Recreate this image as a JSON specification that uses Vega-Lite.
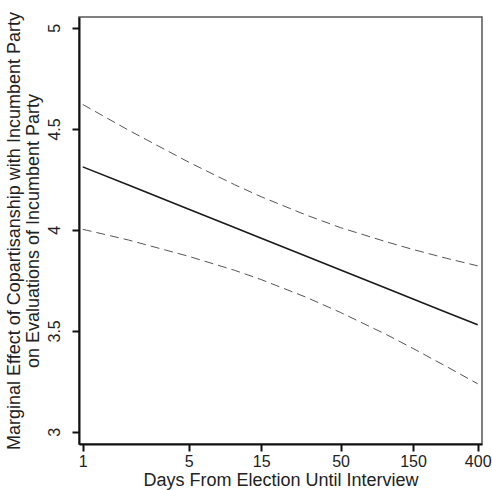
{
  "$schema": "https://vega.github.io/schema/vega-lite/v6.json",
  "width": 403,
  "height": 427,
  "autosize": {"type": "none"},
  "padding": {"left": 79, "top": 17, "right": 10, "bottom": 46},
  "background": "white",
  "config": {
    "font": "Liberation Sans",
    "view": {"stroke": "#555", "strokeWidth": 1.5},
    "axis": {
      "grid": false,
      "domainColor": "#111",
      "domainWidth": 2,
      "tickColor": "#111",
      "tickWidth": 2,
      "tickSize": 7,
      "labelFont": "Liberation Sans",
      "labelFontSize": 16,
      "labelColor": "#222",
      "titleFont": "Liberation Sans",
      "titleFontSize": 18,
      "titleFontWeight": "normal",
      "titleColor": "#222"
    }
  },
  "data": {
    "values": [
      {"days": 1, "est": 4.312, "lo": 4.003, "hi": 4.621},
      {"days": 2, "est": 4.222, "lo": 3.950, "hi": 4.494},
      {"days": 5, "est": 4.102, "lo": 3.869, "hi": 4.335},
      {"days": 10, "est": 4.012, "lo": 3.800, "hi": 4.224},
      {"days": 15, "est": 3.959, "lo": 3.754, "hi": 4.164},
      {"days": 30, "est": 3.868, "lo": 3.665, "hi": 4.072},
      {"days": 50, "est": 3.801, "lo": 3.591, "hi": 4.011},
      {"days": 100, "est": 3.711, "lo": 3.482, "hi": 3.941},
      {"days": 150, "est": 3.658, "lo": 3.413, "hi": 3.903},
      {"days": 250, "est": 3.591, "lo": 3.323, "hi": 3.859},
      {"days": 400, "est": 3.530, "lo": 3.238, "hi": 3.822}
    ]
  },
  "encoding": {
    "x": {
      "field": "days",
      "type": "quantitative",
      "scale": {"type": "log", "domain": [0.945, 427], "nice": false},
      "axis": {
        "values": [1, 5, 15, 50, 150, 400],
        "format": "~g",
        "title": "Days From Election Until Interview",
        "labelPadding": 2,
        "titlePadding": 2,
        "labelFlush": false,
        "labelOverlap": false
      }
    }
  },
  "layer": [
    {
      "mark": {"type": "line", "color": "#555", "strokeWidth": 1, "strokeDash": [9, 5]},
      "encoding": {
        "y": {
          "field": "hi",
          "type": "quantitative",
          "scale": {"domain": [2.94, 5.054], "nice": false, "zero": false},
          "axis": {
            "values": [3, 3.5, 4, 4.5, 5],
            "format": "~g",
            "labelAngle": -90,
            "labelAlign": "center",
            "labelBaseline": "alphabetic",
            "labelPadding": 13,
            "labelFlush": false,
            "labelOverlap": false,
            "title": ["Marginal Effect of Copartisanship with Incumbent Party", "on Evaluations of Incumbent Party"],
            "titlePadding": 4,
            "titleLineHeight": 19
          }
        }
      }
    },
    {
      "mark": {"type": "line", "color": "#555", "strokeWidth": 1, "strokeDash": [9, 5]},
      "encoding": {"y": {"field": "lo", "type": "quantitative"}}
    },
    {
      "mark": {"type": "line", "color": "#1a1a1a", "strokeWidth": 1.6},
      "encoding": {"y": {"field": "est", "type": "quantitative"}}
    }
  ]
}
